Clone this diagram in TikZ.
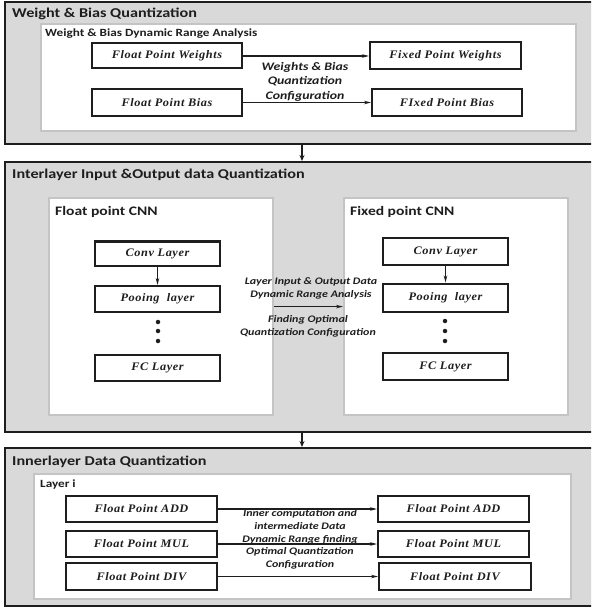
\documentclass[tikz,border=0pt]{standalone}
\usepackage{fontspec}
\setmainfont{Liberation Serif}
\newfontfamily\calfont[FakeStretch=1.2]{Carlito}
\newfontfamily\boxfont[FakeStretch=1.07,LetterSpace=5]{Liberation Serif}
\usetikzlibrary{arrows.meta}
\definecolor{panelgray}{HTML}{D9D9D9}
\definecolor{edgegray}{HTML}{C4C4C4}
\definecolor{ink}{HTML}{1E1E1E}
\tikzset{
  panel/.style={draw=ink, line width=2pt, fill=panelgray, anchor=north west, inner sep=0pt},
  sheet/.style={draw=edgegray, line width=2.2pt, fill=white, anchor=north west, inner sep=0pt},
  qbox/.style={draw=ink, line width=2pt, fill=white, minimum width=150pt, minimum height=25pt,
    inner sep=0pt, font=\boxfont\fontsize{11.5}{13}\selectfont\bfseries\itshape, text=ink},
  ptitle/.style={anchor=west, inner sep=0pt, font=\calfont\fontsize{13.5}{15}\selectfont\bfseries, text=ink},
  stitle/.style={anchor=west, inner sep=0pt, font=\calfont\fontsize{11}{13}\selectfont\bfseries, text=ink},
  ctitle/.style={anchor=west, inner sep=0pt, font=\calfont\fontsize{13}{15}\selectfont\bfseries, text=ink},
  note/.style={align=center, inner sep=0pt, font=\calfont\fontsize{11.5}{14.5}\selectfont\bfseries\itshape, text=ink},
  smallnote/.style={note, font=\calfont\fontsize{10}{13}\selectfont\bfseries\itshape},
  flow/.style={draw=ink, line width=1.5pt, -{Stealth[length=7pt,width=3.5pt]}},
  link/.style={draw=ink, line width=1.6pt, -{Stealth[length=6pt,width=5pt]}},
  dot/.style={circle, fill=ink, inner sep=0pt, minimum size=4.5pt}
}
\begin{document}
\begin{tikzpicture}[x=1pt,y=-1pt]
\useasboundingbox (0,0) rectangle (591,609);
\clip (0,0) rectangle (591,609);

% ---------- weight & bias stage ----------
\node[panel, minimum width=600pt, minimum height=142pt] (p1) at (4,1.5) {};
\node[ptitle] (t1) at (12,14) {Weight \& Bias Quantization};
\node[sheet, minimum width=535pt, minimum height=107pt] (s1) at (40,23) {};
\node[stitle] (t1b) at (45,34) {Weight \& Bias Dynamic Range Analysis};
\node[qbox] (fpw) at (167,56) {Float Point Weights};
\node[qbox, minimum height=27pt] (fpb) at (167,102.5) {Float Point Bias};
\node[qbox, minimum width=151pt, minimum height=27pt] (xpw) at (445.5,56) {Fixed Point Weights};
\node[qbox, minimum height=27pt] (xpb) at (447,102.5) {FIxed Point Bias};
\draw[flow] (fpw) -- (xpw);
\draw[flow] (fpb) -- (xpb);
\node[note] (n1) at (305,81.5) {Weights \& Bias\\Quantization\\Configuration};

% ---------- interlayer stage ----------
\node[panel, minimum width=600pt, minimum height=270pt] (p2) at (4,161) {};
\node[ptitle] (t2) at (12,175) {Interlayer Input \&Output data Quantization};
\node[sheet, minimum width=224pt, minimum height=217pt] (s2a) at (48,197) {};
\node[sheet, minimum width=224pt, minimum height=217pt] (s2b) at (343,197) {};
\node[ctitle] (t2a) at (55,212) {Float point CNN};
\node[ctitle] (t2b) at (350,212) {Fixed point CNN};

\node[qbox, minimum width=125pt, minimum height=24pt] (conv1) at (157.5,253.5) {Conv Layer};
\node[qbox, minimum width=125pt, minimum height=26pt] (pool1) at (157.5,299) {Pooing\ \ layer};
\node[qbox, minimum width=125pt, minimum height=26pt] (fc1) at (157.5,368) {FC Layer};
\node[dot] (d1a) at (158,322) {};
\node[dot] (d1b) at (158,331) {};
\node[dot] (d1c) at (158,341) {};
\draw[flow] (conv1) -- (pool1);

\node[qbox, minimum width=125pt, minimum height=27pt] (conv2) at (445.5,251.5) {Conv Layer};
\node[qbox, minimum width=125pt, minimum height=28pt] (pool2) at (445.5,297.5) {Pooing\ \ layer};
\node[qbox, minimum width=125pt, minimum height=27pt] (fc2) at (445.5,366.5) {FC Layer};
\node[dot] (d2a) at (445,321) {};
\node[dot] (d2b) at (445,331) {};
\node[dot] (d2c) at (445,341) {};
\draw[flow] (conv2) -- (pool2);

\draw[flow] (s2a.east) -- (s2b.west);
\node[smallnote] (n2a) at (311,288.5) {Layer Input \& Output Data\\Dynamic Range Analysis};
\node[smallnote] (n2b) at (308,326.5) {Finding Optimal\\Quantization Configuration};

% ---------- innerlayer stage ----------
\node[panel, minimum width=600pt, minimum height=158pt] (p3) at (4,447) {};
\node[ptitle] (t3) at (12,462) {Innerlayer Data Quantization};
\node[sheet, minimum width=537pt, minimum height=125pt] (s3) at (33,473) {};
\node[stitle] (t3b) at (40,485) {Layer i};

\node[qbox, minimum width=151pt, minimum height=26pt] (add1) at (141.5,509) {Float Point ADD};
\node[qbox, minimum width=151pt, minimum height=26pt] (mul1) at (141.5,544) {Float Point MUL};
\node[qbox, minimum width=151pt, minimum height=27pt] (div1) at (141.5,576.5) {Float Point DIV};
\node[qbox, minimum width=151pt, minimum height=26pt] (add2) at (453.5,509) {Float Point ADD};
\node[qbox, minimum width=151pt, minimum height=26pt] (mul2) at (453.5,544) {Float Point MUL};
\node[qbox, minimum width=152pt, minimum height=27pt] (div2) at (455,576.5) {Float Point DIV};
\draw[flow] (add1) -- (add2);
\draw[flow] (mul1) -- (mul2);
\draw[flow] (div1) -- (div2);
\node[smallnote, font=\calfont\fontsize{10}{12.75}\selectfont\bfseries\itshape] (n3) at (300,539.5)
  {Inner computation and\\intermediate Data\\Dynamic Range finding\\Optimal Quantization\\Configuration};

% ---------- stage links ----------
\coordinate (axis) at (302,0);
\draw[link] (p1.south -| axis) -- (p2.north -| axis);
\draw[link] (p2.south -| axis) -- (p3.north -| axis);
\end{tikzpicture}
\end{document}
